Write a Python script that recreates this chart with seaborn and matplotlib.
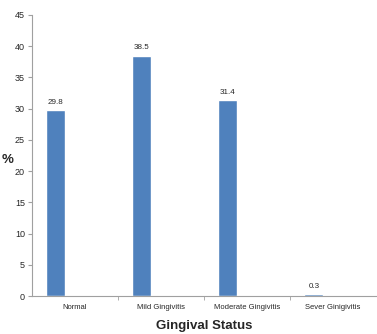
import numpy as np
import pandas as pd
import seaborn as sns
import matplotlib.pyplot as plt
from matplotlib.ticker import FixedLocator

categories = ['Normal', 'Mild Gingivitis', 'Moderate Gingivitis', 'Sever Ginigivitis']
percent = [29.8, 38.5, 31.4, 0.3]
# Excel-style cluster: only the first of three series holds data
series_order = ['Percent', 'Blank 1', 'Blank 2']

rows = []
for s in series_order:
    for cat, v in zip(categories, percent):
        rows.append({'status': cat, 'pct': v if s == 'Percent' else np.nan, 'series': s})
df = pd.DataFrame(rows)

sns.set_style('white')
plt.rcParams['font.family'] = ['Liberation Sans', 'DejaVu Sans']

fig = plt.figure(figsize=(3.77, 3.34), dpi=100)
ax = fig.add_axes([32 / 377, 1 - 296 / 334, 344 / 377, 281 / 334])

sns.barplot(data=df, x='status', y='pct', hue='series', hue_order=series_order,
            order=categories, width=0.667, palette=['#4F81BD'] * 3,
            legend=False, ax=ax, saturation=1, errorbar=None)

ax.bar_label(ax.containers[0], fmt='%.1f', padding=3, fontsize=5.8)

ax.set_ylim(0, 45)
ax.set_xlim(-0.5, 3.5)
ax.set_yticks(range(0, 46, 5))
ax.tick_params(axis='y', labelsize=6.5, length=3, color='#A0A0A0', left=True, pad=2)
ax.tick_params(axis='x', which='major', labelsize=5.5, length=0, pad=6)
ax.xaxis.set_minor_locator(FixedLocator([0.5, 1.5, 2.5]))
ax.tick_params(axis='x', which='minor', length=3, color='#A0A0A0', bottom=True)

for s in ['top', 'right']:
    ax.spines[s].set_visible(False)
for s in ['left', 'bottom']:
    ax.spines[s].set_color('#A0A0A0')
    ax.spines[s].set_linewidth(0.8)

ax.set_xlabel('Gingival Status', fontsize=9.5, fontweight='bold', labelpad=6)
ax.set_ylabel('%', fontsize=9.5, fontweight='bold', rotation=0, va='center')
ax.yaxis.set_label_coords(-0.07, 0.484)

fig.savefig('out.png', dpi=100)
